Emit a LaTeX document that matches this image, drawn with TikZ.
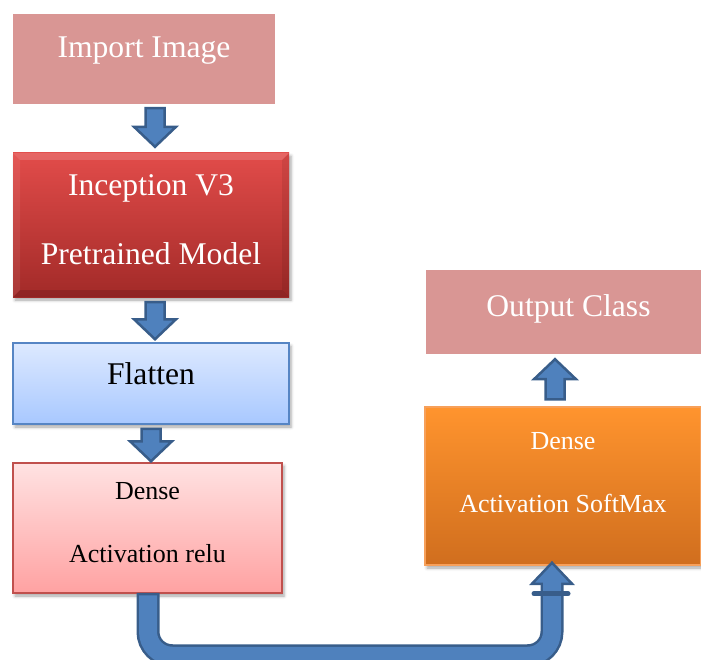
\documentclass[tikz,border=0pt]{standalone}
\usepackage{fontspec}
\setmainfont{Liberation Serif}
\usetikzlibrary{calc,shadows.blur}

\definecolor{pinkbox}{RGB}{217,150,148}
\definecolor{redtop}{RGB}{226,76,74}
\definecolor{redbot}{RGB}{162,42,40}
\definecolor{bluetop}{RGB}{221,233,255}
\definecolor{bluebot}{RGB}{168,200,255}
\definecolor{blueedge}{RGB}{86,133,196}
\definecolor{rosetop}{RGB}{255,226,226}
\definecolor{rosebot}{RGB}{255,162,162}
\definecolor{roseedge}{RGB}{192,80,77}
\definecolor{orangetop}{RGB}{255,148,46}
\definecolor{orangebot}{RGB}{208,110,30}
\definecolor{orangeedge}{RGB}{247,160,90}
\definecolor{arrowfill}{RGB}{79,129,189}
\definecolor{arrowedge}{RGB}{56,93,138}

\newcommand{\boxtext}[2]{\raisebox{#1}[\height][\depth]{\begin{tabular}{@{}c@{}}#2\end{tabular}}}
\newcommand{\blockarrow}[3]{%
  \draw[blockarr] ($(#1)+(-9.5,0)$) -- ($(#1)+(9.5,0)$) -- ($(#2)+(9.5,{-20*(#3)})$) -- ($(#2)+(21,{-20*(#3)})$) -- (#2) -- ($(#2)+(-21,{-20*(#3)})$) -- ($(#2)+(-9.5,{-20*(#3)})$) -- cycle;}

\tikzset{
  box/.style={rectangle, inner sep=0pt},
  shadowed/.style={blur shadow={shadow xshift=2pt, shadow yshift=-3pt, shadow blur radius=3pt, shadow opacity=35}},
  bigtext/.style={font=\fontsize{31.6}{38}\selectfont},
  flatbox/.style={box, fill=pinkbox, text=white, bigtext},
  redbox/.style={box, shadowed, top color=redtop, bottom color=redbot, text=white,
    path picture={
      \fill[white, opacity=.15] (path picture bounding box.north west) -- (path picture bounding box.north east) -- ([xshift=-7,yshift=-7]path picture bounding box.north east) -- ([xshift=7,yshift=-7]path picture bounding box.north west) -- cycle;
      \fill[white, opacity=.07] (path picture bounding box.north west) -- ([xshift=7,yshift=-7]path picture bounding box.north west) -- ([xshift=7,yshift=7]path picture bounding box.south west) -- (path picture bounding box.south west) -- cycle;
      \fill[black, opacity=.08] (path picture bounding box.north east) -- ([xshift=-7,yshift=-7]path picture bounding box.north east) -- ([xshift=-7,yshift=7]path picture bounding box.south east) -- (path picture bounding box.south east) -- cycle;
      \fill[black, opacity=.12] (path picture bounding box.south west) -- ([xshift=7,yshift=7]path picture bounding box.south west) -- ([xshift=-7,yshift=7]path picture bounding box.south east) -- (path picture bounding box.south east) -- cycle;
    }},
  bluebox/.style={box, shadowed, top color=bluetop, bottom color=bluebot, draw=blueedge, line width=1.5},
  rosebox/.style={box, shadowed, top color=rosetop, bottom color=rosebot, draw=roseedge, line width=1.5},
  orangebox/.style={box, shadowed, top color=orangetop, bottom color=orangebot, draw=orangeedge, line width=1.5, text=white},
  blockarr/.style={fill=arrowfill, draw=arrowedge, line width=2.5, line join=miter},
}

\begin{document}
\begin{tikzpicture}[x=1pt, y=-1pt]
\useasboundingbox (0,0) rectangle (701,660);

\node[flatbox, minimum width=262, minimum height=90] (import) at (144,59) {\boxtext{8.6pt}{Import Image}};
\node[redbox, font=\fontsize{31.6}{69}\selectfont, minimum width=276, minimum height=144] (incep) at (151,225) {\boxtext{8.6pt}{Inception V3\\Pretrained Model}};
\node[bluebox, bigtext, minimum width=276, minimum height=81] (flat) at (151,383.5) {\boxtext{6.4pt}{Flatten}};
\node[rosebox, font=\fontsize{26}{63}\selectfont, minimum width=269, minimum height=130] (relu) at (147.5,528) {\boxtext{9.4pt}{Dense\\Activation relu}};
\node[orangebox, font=\fontsize{26}{63}\selectfont, minimum width=276, minimum height=158] (soft) at (563,486) {\boxtext{18.1pt}{Dense\\Activation SoftMax}};
\node[flatbox, minimum width=275, minimum height=84] (out) at (563.5,312) {\boxtext{3.6pt}{\hspace*{10pt}Output Class}};

\coordinate (a1s) at ([xshift=11,yshift=-4]import.south);
\coordinate (a1t) at ($(a1s |- incep.north)+(0,-6)$);
\coordinate (a2s) at ([xshift=4,yshift=-5]incep.south);
\coordinate (a2t) at ($(a2s |- flat.north)+(0,-3)$);
\coordinate (a3s) at ([yshift=-4]flat.south);
\coordinate (a3t) at ($(a3s |- relu.north)+(0,-1)$);
\coordinate (a4s) at ([xshift=-8,yshift=7]soft.north);
\coordinate (a4t) at ($(a4s |- out.south)+(0,5)$);

\blockarrow{a1s}{a1t}{1}
\blockarrow{a2s}{a2t}{1}
\blockarrow{a3s}{a3t}{1}
\blockarrow{a4s}{a4t}{-1}

% u-turn from relu to softmax
\coordinate (u1) at ([xshift=0.5]relu.south);
\coordinate (ubot) at ([yshift=-62]u1);
\coordinate (u4) at ([xshift=-11,yshift=-18]soft.south);
\coordinate (u5) at ([xshift=-11,yshift=3]soft.south);
\draw[line width=23, arrowedge, rounded corners=24] ([yshift=1]u1) -- (ubot) -| ([yshift=8]u4);
\filldraw[blockarr] ($(u4)+(-20,0)$) -- (u5) -- ($(u4)+(20,0)$) -- cycle;
\draw[line width=18, arrowfill, rounded corners=24] ([yshift=-1.5]u1) -- (ubot) -| ([yshift=4]u4);
\draw[line width=5, arrowedge, line cap=round] ([xshift=-18,yshift=-10]u4) -- ([xshift=16,yshift=-10]u4);
\end{tikzpicture}
\end{document}
